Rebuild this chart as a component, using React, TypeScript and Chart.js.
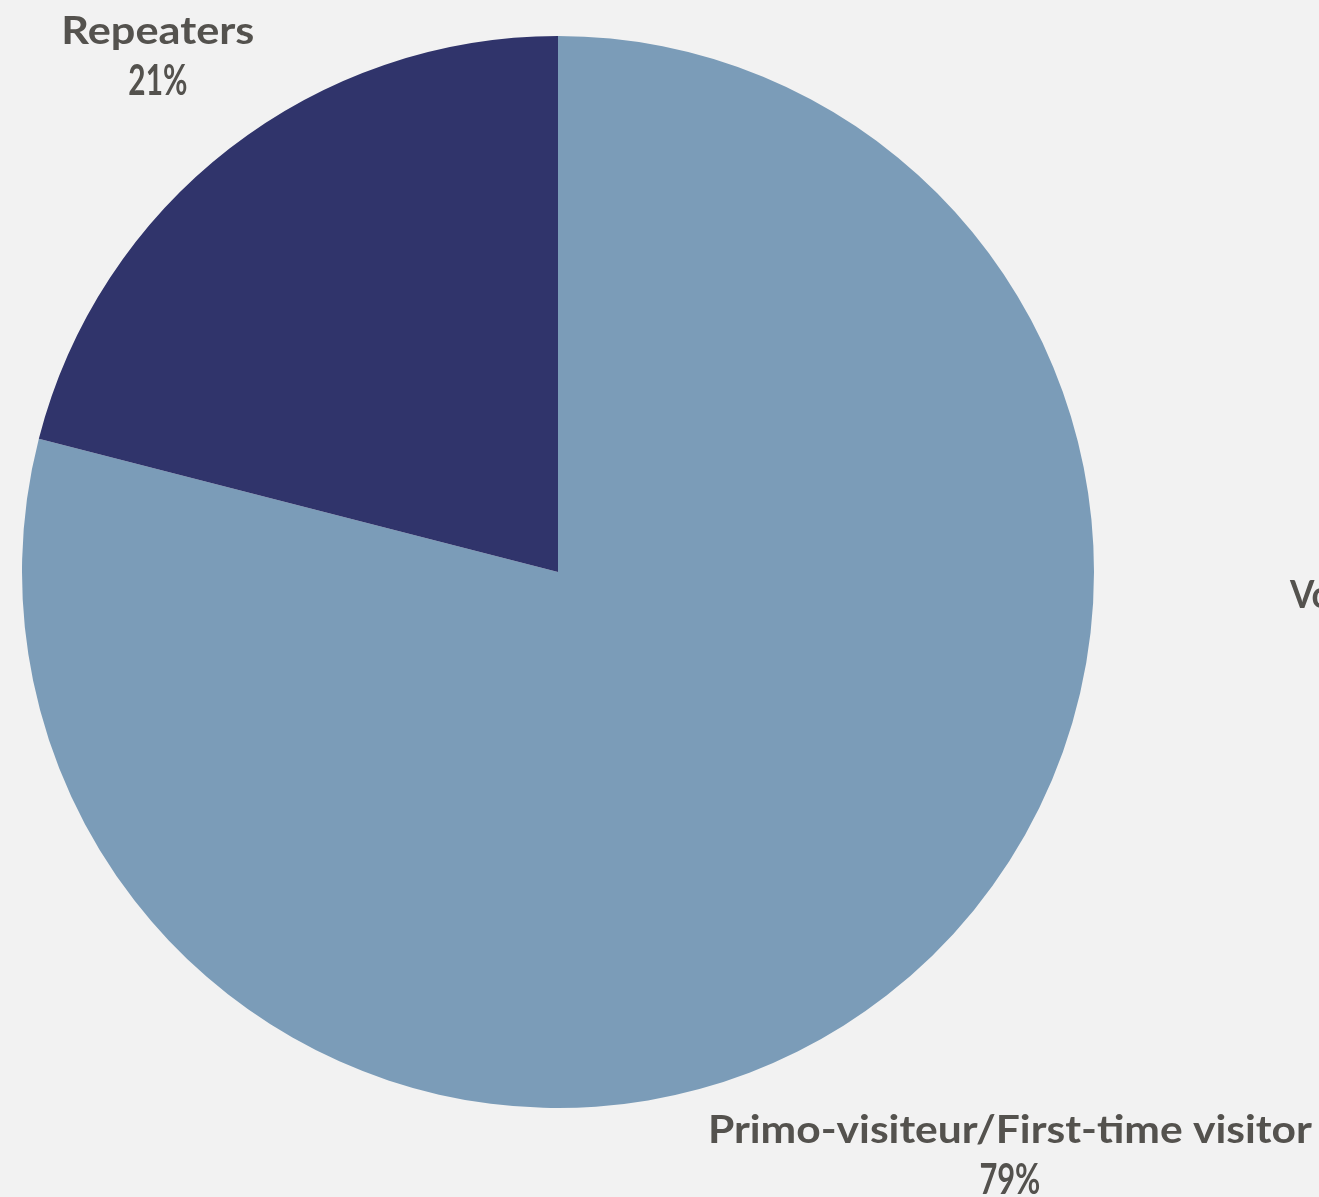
import React, { useEffect, useRef } from "react";
import { Chart, registerables } from "chart.js";

Chart.register(...registerables);

const categories = ["Primo-visiteur/First-time visitor", "Repeaters"];
const values = [79, 21];
const percentLabels = ["79%", "21%"];
const sliceColors = ["#7b9cb8", "#30346b"];
const sideTitle = "Vous êtes";

const W = 1319;
const H = 1197;
const TEXT_COLOR = "#54524e";
const FONT = "bold 39px Lato, 'Open Sans', sans-serif";
const PCT_FONT = "bold 42px Lato, 'Open Sans', sans-serif";

const labelPlugin = {
  id: "outsideLabels",
  afterDraw(chart: any) {
    const ctx = chart.ctx as CanvasRenderingContext2D;
    const meta = chart.getDatasetMeta(0);
    const radiusFactor = [1.3755, 1.218];
    const nameWidth = [604, 193];
    const pctWidth = [61, 59];
    ctx.save();
    ctx.fillStyle = TEXT_COLOR;
    ctx.textBaseline = "alphabetic";
    ctx.textAlign = "center";
    meta.data.forEach((arc: any, i: number) => {
      const p = arc.getProps(["x", "y", "startAngle", "endAngle", "outerRadius"], true);
      const mid = (p.startAngle + p.endAngle) / 2;
      const ax = p.x + Math.cos(mid) * p.outerRadius * radiusFactor[i];
      const ay = p.y + Math.sin(mid) * p.outerRadius * radiusFactor[i];
      const name = categories[i];
      ctx.font = FONT;
      const w1 = ctx.measureText(name).width;
      ctx.save();
      ctx.translate(ax, ay - 12);
      ctx.scale(nameWidth[i] / w1, 1);
      ctx.fillText(name, 0, 0);
      ctx.restore();
      const pct = percentLabels[i];
      ctx.font = PCT_FONT;
      const w2 = ctx.measureText(pct).width;
      ctx.save();
      ctx.translate(ax, ay + 39);
      ctx.scale(pctWidth[i] / w2, 1);
      ctx.fillText(pct, 0, 0);
      ctx.restore();
    });
    // side title, cut off by the right edge
    ctx.font = FONT;
    ctx.textAlign = "left";
    ctx.save();
    ctx.translate(1290, 608);
    ctx.scale(0.9, 1);
    ctx.fillText(sideTitle, 0, 0);
    ctx.restore();
    ctx.restore();
  },
};

export default function App() {
  const ref = useRef<HTMLCanvasElement | null>(null);
  useEffect(() => {
    document.body.style.margin = "0";
    document.body.style.background = "#f2f2f2";
    if (!ref.current) return;
    const chart = new Chart(ref.current, {
      type: "pie",
      data: {
        labels: categories,
        datasets: [
          {
            data: values,
            backgroundColor: sliceColors,
            borderWidth: 0,
          },
        ],
      },
      options: {
        responsive: false,
        animation: false,
        layout: { padding: { left: 22, right: 225, top: 36, bottom: 89 } },
        plugins: {
          legend: { display: false },
          tooltip: { enabled: false },
          title: { display: false },
        },
      },
      plugins: [labelPlugin],
    });
    return () => chart.destroy();
  }, []);
  return (
    <div style={{ width: W, height: H, background: "#f2f2f2", overflow: "hidden" }}>
      <canvas ref={ref} width={W} height={H} style={{ display: "block", width: W, height: H }} />
    </div>
  );
}
